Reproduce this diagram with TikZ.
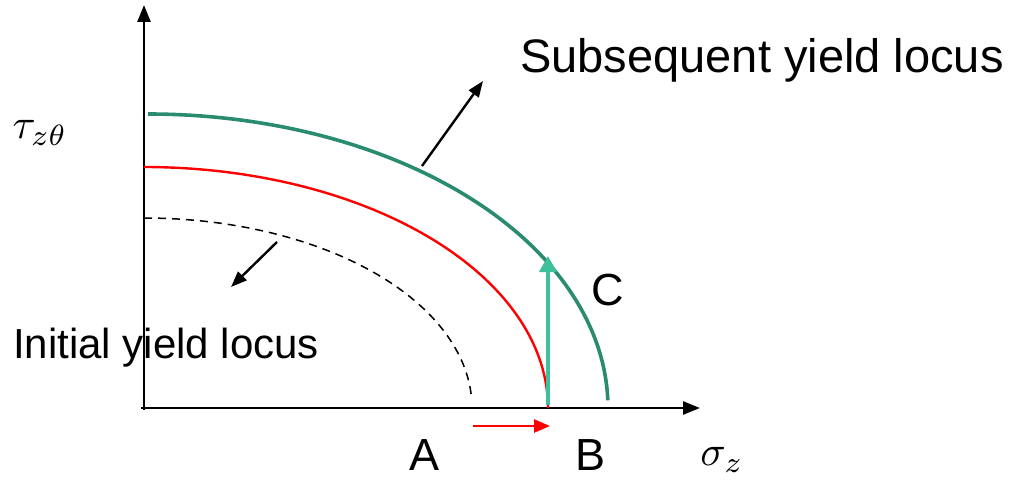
\documentclass[tikz,border=0pt]{standalone}
\usepackage{graphicx}
\usepackage{fontspec}
\setmainfont{Liberation Sans}
\usetikzlibrary{arrows.meta}
\definecolor{locgreen}{HTML}{2A8C6E}
\definecolor{arrgreen}{HTML}{3EC09C}
\begin{document}
\begin{tikzpicture}[x=1pt,y=-1pt,
  axis/.style={line width=2.6pt,-{Triangle[length=17pt,width=13pt]}},
  blackarr/.style={line width=2.4pt,-{Triangle[length=16pt,width=12pt]}},
  lbl/.style={font=\fontsize{45}{54}\selectfont,inner sep=0pt},
  mathlbl/.style={inner sep=0pt}]
\useasboundingbox (0,0) rectangle (1019,486);
% axes
\coordinate (O) at (144,408);
\coordinate (Ox) at (141,408);
\coordinate (Ytip) at (144,5);
\coordinate (Xtip) at (700,408);
\draw[axis] (144,410) -- (Ytip);
\draw[axis] (Ox) -- (Xtip);
% initial (dashed)
\draw[line width=1.5pt,dash pattern=on 8pt off 6pt,domain=0:86,samples=80]
  plot ({144+328*sin(\x)},{408-190*cos(\x)});
% red
\draw[red,line width=2.4pt,domain=0:90,samples=90]
  plot ({144+404*sin(\x)},{408-241*cos(\x)});
% green
\draw[locgreen,line width=3.6pt,domain=0:88.5,samples=90]
  plot ({148+460*sin(\x)},{408-294*cos(\x)});
% arrows
\coordinate (Bfoot) at (548,405);
\coordinate (Cpt) at (548,256);
\draw[arrgreen,line width=4pt,-{Triangle[length=16pt,width=17pt]}] (Bfoot) -- (Cpt);
\coordinate (Ared) at (473,426);
\coordinate (Bred) at (550,426);
\draw[red,line width=2.6pt,-{Triangle[length=16pt,width=13pt]}] (Ared) -- (Bred);
\coordinate (s1) at (422,166);
\coordinate (s2) at (483,81);
\draw[blackarr] (s1) -- (s2);
\coordinate (i1) at (277,242);
\coordinate (i2) at (231,287);
\draw[blackarr] (i1) -- (i2);
% labels
\node[lbl,font=\fontsize{47}{56}\selectfont] (subs) at (762,60) {Subsequent yield locus};
\node[lbl,font=\fontsize{42}{50}\selectfont] (init) at (166,348) {Initial yield locus};
\node[lbl] (A) at (425,455) {A};
\node[lbl] (B) at (590,455) {B};
\node[lbl] (C) at (608,290) {C};
\node[mathlbl] (tau) at (40,133) {\scalebox{4.2}{$\tau_{z\theta}$}};
\node[mathlbl] (sig) at (722,460) {\scalebox{4.2}{$\sigma_z$}};
\end{tikzpicture}
\end{document}
